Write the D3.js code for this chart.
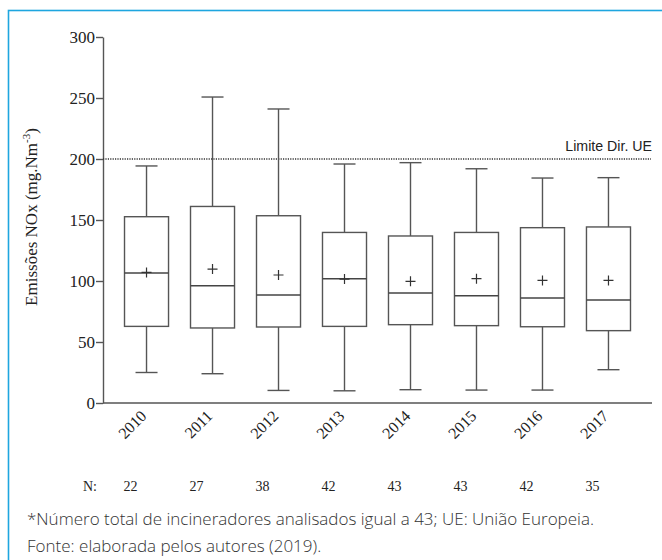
<!DOCTYPE html>
<html>
<head>
<meta charset="utf-8">
<script src="https://cdn.jsdelivr.net/npm/d3@7/dist/d3.min.js"></script>
<style>
  body { margin: 0; background: #fff; }
</style>
</head>
<body>
<script>
// data
const years = ["2010", "2011", "2012", "2013", "2014", "2015", "2016", "2017"];
const whiskerLow  = [25, 24, 10.3, 10, 10.9, 10.6, 10.6, 27.3];
const q1          = [62.8, 61.5, 62.3, 62.8, 64.2, 63.4, 62.5, 59.3];
const median      = [106.6, 96.1, 88.5, 101.9, 90.2, 88, 86, 84.4];
const q3          = [152.7, 161.1, 153.5, 139.8, 136.9, 139.8, 143.7, 144.3];
const whiskerHigh = [194.3, 250.8, 241, 195.9, 197, 192, 184.4, 184.7];
const means       = [107, 109.8, 104.9, 101.6, 99.7, 101.9, 100.5, 100.5];
const counts      = [22, 27, 38, 42, 43, 43, 42, 35];
const yTicks      = [0, 50, 100, 150, 200, 250, 300];
const limitValue  = 200;
const limitLabel  = "Limite Dir. UE";

let canvasW = 662;
let canvasH = 560;
let margin = ({top: 37, right: 10, bottom: 157, left: 103});

const rows = years.map((y, i) => ({
  year: y, lo: whiskerLow[i], q1: q1[i], med: median[i],
  q3: q3[i], hi: whiskerHigh[i], mean: means[i], n: counts[i]
}));

let svg = d3.select("body")
  .append("svg")
    .attr("width", canvasW)
    .attr("height", canvasH)
    .style("display", "block");

// blue frame around the figure
svg.append("rect")
  .attr("x", 8.5).attr("y", 10.5)
  .attr("width", 700).attr("height", 700)
  .attr("fill", "none")
  .attr("stroke", "#1ea6df")
  .attr("stroke-width", 1.6);

let xScale = d3.scaleBand()
  .domain(years)
  .range([margin.left, canvasW - margin.right])
  .paddingInner(0.333)
  .paddingOuter(0.326);

let yScale = d3.scaleLinear()
  .domain([0, 300])
  .range([canvasH - margin.bottom, margin.top]);

const lineCol = "#555";
const bw = xScale.bandwidth();

// y axis
let yAxis = svg.append("g")
  .attr("transform", "translate(" + margin.left + ",0)")
  .call(d3.axisLeft(yScale).tickValues(yTicks).tickSize(7).tickPadding(1).tickSizeOuter(0));
yAxis.select(".domain").attr("stroke", lineCol).attr("stroke-width", 1.4);
yAxis.selectAll(".tick line").attr("stroke", lineCol).attr("stroke-width", 1.4);
yAxis.selectAll(".tick text")
  .attr("font-family", "Liberation Serif, serif")
  .attr("font-size", "17px")
  .attr("fill", "#222");

// x axis line (no ticks)
svg.append("line")
  .attr("x1", margin.left).attr("x2", canvasW - margin.right)
  .attr("y1", yScale(0)).attr("y2", yScale(0))
  .attr("stroke", lineCol).attr("stroke-width", 1.4);

// EU limit line
svg.append("line")
  .attr("x1", margin.left).attr("x2", canvasW - margin.right - 1)
  .attr("y1", yScale(limitValue)).attr("y2", yScale(limitValue))
  .attr("stroke", "#333").attr("stroke-width", 1.4)
  .attr("stroke-dasharray", "1.2,1.2");

svg.append("text")
  .attr("x", canvasW - margin.right)
  .attr("y", yScale(limitValue) - 8)
  .attr("text-anchor", "end")
  .attr("font-family", "Liberation Sans, Arial, sans-serif")
  .attr("font-size", "14.2px")
  .attr("fill", "#222")
  .text(limitLabel);

// boxes
let g = svg.selectAll(".box")
  .data(rows)
  .enter()
  .append("g")
    .attr("class", "box");

g.append("line")
  .attr("x1", d => xScale(d.year) + bw / 2).attr("x2", d => xScale(d.year) + bw / 2)
  .attr("y1", d => yScale(d.hi)).attr("y2", d => yScale(d.q3))
  .attr("stroke", lineCol).attr("stroke-width", 1.4);
g.append("line")
  .attr("x1", d => xScale(d.year) + bw / 2).attr("x2", d => xScale(d.year) + bw / 2)
  .attr("y1", d => yScale(d.q1)).attr("y2", d => yScale(d.lo))
  .attr("stroke", lineCol).attr("stroke-width", 1.4);
// caps
g.selectAll(".cap")
  .data(d => [d.hi, d.lo].map(v => ({year: d.year, v: v})))
  .enter()
  .append("line")
    .attr("x1", d => xScale(d.year) + bw / 4).attr("x2", d => xScale(d.year) + bw * 3 / 4)
    .attr("y1", d => yScale(d.v)).attr("y2", d => yScale(d.v))
    .attr("stroke", lineCol).attr("stroke-width", 1.4);

g.append("rect")
  .attr("x", d => xScale(d.year))
  .attr("y", d => yScale(d.q3))
  .attr("width", bw)
  .attr("height", d => yScale(d.q1) - yScale(d.q3))
  .attr("fill", "#fff")
  .attr("stroke", lineCol).attr("stroke-width", 1.4);

g.append("line")
  .attr("x1", d => xScale(d.year)).attr("x2", d => xScale(d.year) + bw)
  .attr("y1", d => yScale(d.med)).attr("y2", d => yScale(d.med))
  .attr("stroke", "#444").attr("stroke-width", 1.5);

// mean as "+"
g.append("path")
  .attr("d", d => {
    let cx = xScale(d.year) + bw / 2, cy = yScale(d.mean);
    return "M" + (cx - 5) + "," + cy + "H" + (cx + 5) + "M" + cx + "," + (cy - 5) + "V" + (cy + 5);
  })
  .attr("stroke", "#333").attr("stroke-width", 1.2);

// rotated year labels
svg.selectAll(".yr")
  .data(years)
  .enter()
  .append("text")
    .attr("class", "yr")
    .attr("transform", d => "translate(" + (xScale(d) + bw / 2 + 1) + "," + (yScale(0) + 14) + ") rotate(-45)")
    .attr("text-anchor", "end")
    .attr("font-family", "Liberation Serif, serif")
    .attr("font-size", "16px")
    .attr("fill", "#222")
    .text(d => d);

// N row
svg.append("text")
  .attr("x", 83).attr("y", 491)
  .attr("font-family", "Liberation Serif, serif")
  .attr("font-size", "14px")
  .attr("fill", "#222")
  .text("N:");

svg.selectAll(".n")
  .data(rows)
  .enter()
  .append("text")
    .attr("class", "n")
    .attr("x", d => xScale(d.year) + bw / 2 - 16)
    .attr("y", 491)
    .attr("text-anchor", "middle")
    .attr("font-family", "Liberation Serif, serif")
    .attr("font-size", "14px")
    .attr("fill", "#222")
    .text(d => d.n);

// y axis title
const yText = svg.append("text")
  .attr("transform", "translate(37," + 217 + ") rotate(-90)")
  .attr("text-anchor", "middle")
  .attr("font-family", "Liberation Serif, serif")
  .attr("font-size", "17px")
  .attr("fill", "#222");
yText.append("tspan").text("Emissões NOx (mg.Nm");
yText.append("tspan").attr("font-size", "11px").attr("dy", -7).text("-3");
yText.append("tspan").attr("dy", 7).text(")");

// footnotes
svg.append("text")
  .attr("x", 27).attr("y", 525)
  .attr("font-family", "Open Sans, sans-serif")
  .attr("font-weight", 300)
  .attr("font-size", "17px")
  .attr("fill", "#333")
  .text("*Número total de incineradores analisados igual a 43; UE: União Europeia.");

svg.append("text")
  .attr("x", 27).attr("y", 551.5)
  .attr("font-family", "Open Sans, sans-serif")
  .attr("font-weight", 300)
  .attr("font-size", "17px")
  .attr("fill", "#333")
  .text("Fonte: elaborada pelos autores (2019).");
</script>
</body>
</html>
